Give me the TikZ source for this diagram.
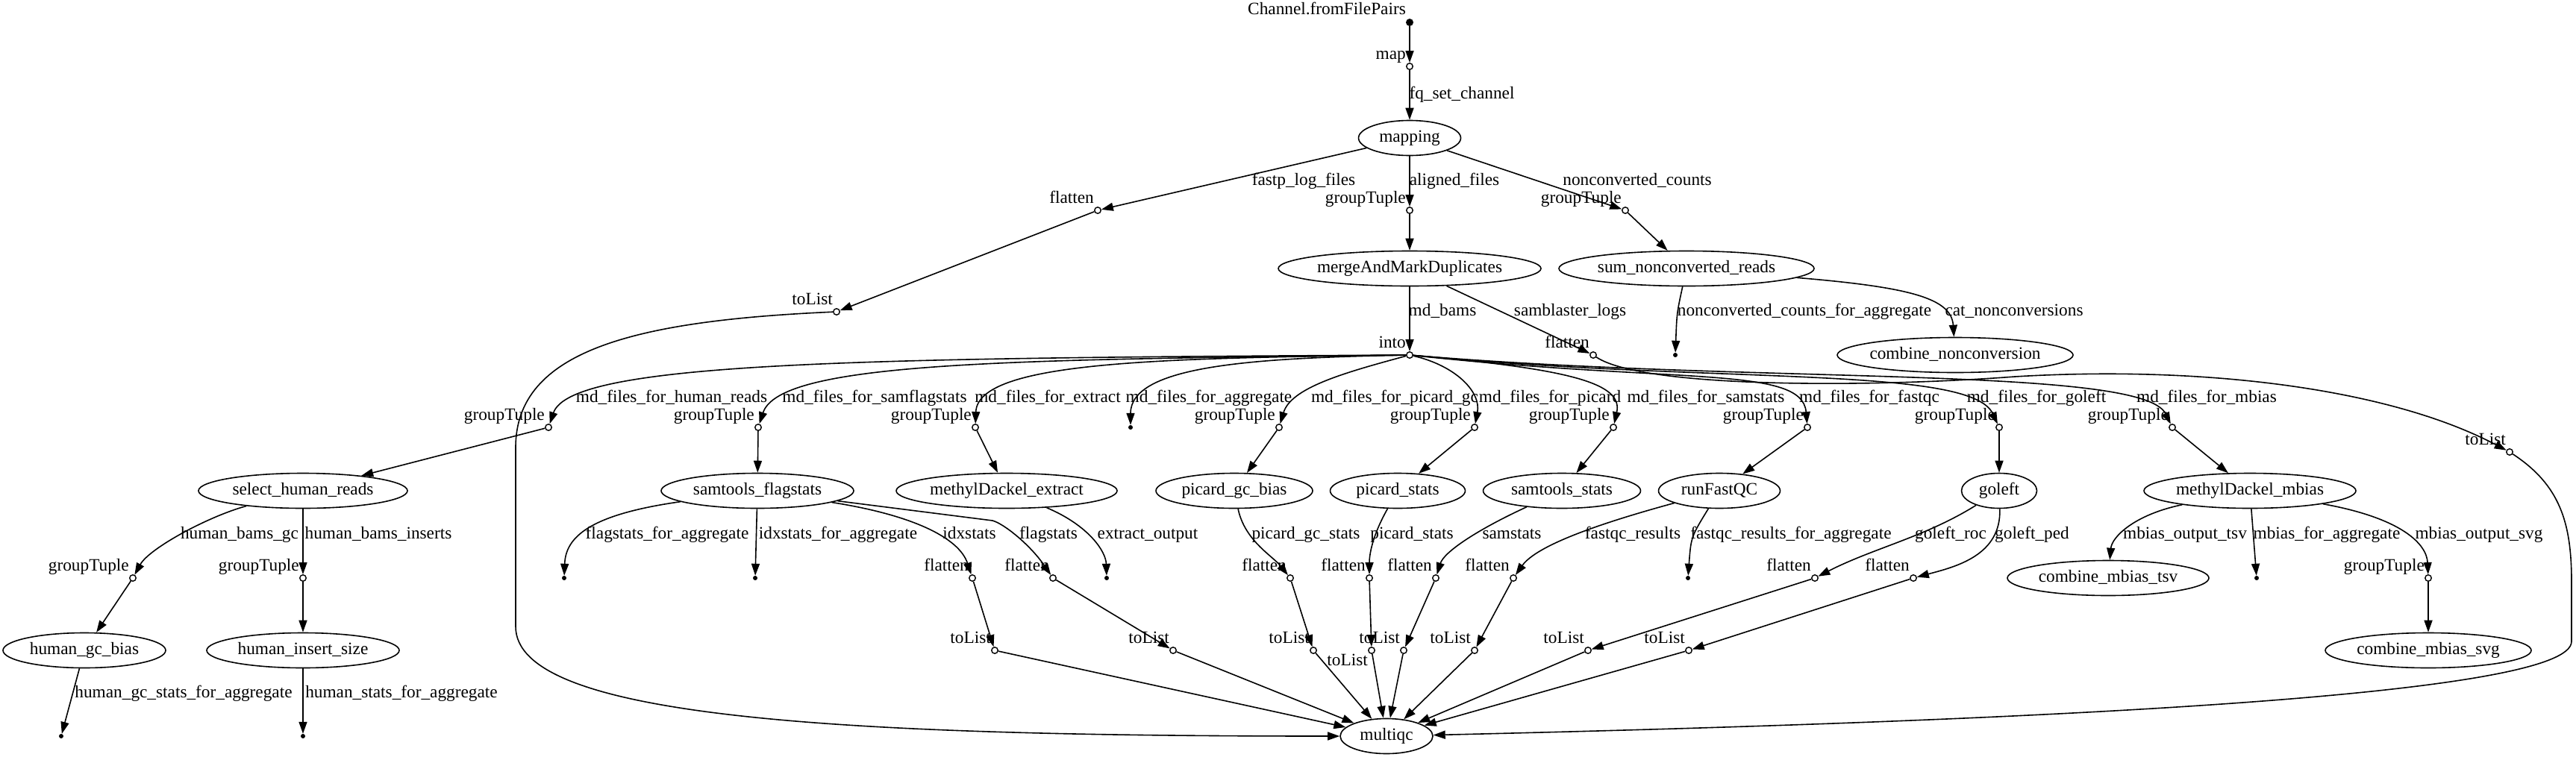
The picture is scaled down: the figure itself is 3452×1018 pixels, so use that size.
\documentclass[tikz,border=0pt]{standalone}
\usepackage{fontspec}
\setmainfont{Liberation Serif}
\usetikzlibrary{shapes.geometric,arrows.meta}
\newcommand\opnode[4]{%
  \node[opn] (#1) at (#2,#3) {};
  \node[xl] (#1-l) at (#2-5,#3-15) {#4};}
\newcommand\procnode[5]{%
  \node[proc, minimum width=#4pt] (#1) at (#2,#3) {\makebox[0pt]{#5}};}
\begin{document}
\begin{tikzpicture}[x=1pt,y=-1pt,
  every node/.style={font=\fontsize{23.3pt}{28pt}\selectfont},
  txt/.style={inner sep=0pt, text height=16pt, text depth=5pt},
  proc/.style={ellipse, draw, line width=1.6pt, inner sep=0pt, minimum height=47pt, text height=16pt, text depth=5pt},
  opn/.style={circle, draw, line width=1.4pt, inner sep=0pt, minimum size=8.5pt, fill=white},
  srcn/.style={circle, fill, inner sep=0pt, minimum size=10pt},
  sinkn/.style={circle, fill, inner sep=0pt, minimum size=6pt},
  xl/.style={txt, anchor=east},
  el/.style={txt},
  conn/.style={line width=1.6pt, -{Triangle[length=16pt,width=11pt]}}
]
\useasboundingbox (0,0) rectangle (3452,1018);

% ---------- nodes ----------
\node[srcn] (src) at (1889,30) {};
\node[txt] (src-l) at (1778,14) {Channel.fromFilePairs};
\opnode{map}{1889}{89}{map}
\procnode{mapping}{1889}{185}{137}{mapping}
\opnode{flatA}{1471}{282}{flatten}
\opnode{gtA}{1889}{282}{groupTuple}
\opnode{gtB}{2178}{282}{groupTuple}
\opnode{tlA}{1121}{418}{toList}
\procnode{mamd}{1889}{360}{352}{mergeAndMarkDuplicates}
\procnode{sumnc}{2260}{360}{342}{sum\_nonconverted\_reads}
\opnode{into}{1889}{476}{into}
\opnode{flatB}{2135}{476}{flatten}
\node[sinkn] (snkA) at (2245,476) {};
\procnode{combnc}{2620}{476}{316}{combine\_nonconversion}

\opnode{gtHR}{735}{573}{groupTuple}
\opnode{gtSF}{1016}{573}{groupTuple}
\opnode{gtEX}{1307}{573}{groupTuple}
\node[sinkn] (snkB) at (1515,573) {};
\opnode{gtPG}{1714}{573}{groupTuple}
\opnode{gtPS}{1976}{573}{groupTuple}
\opnode{gtSS}{2162}{573}{groupTuple}
\opnode{gtFQ}{2422}{573}{groupTuple}
\opnode{gtGL}{2679}{573}{groupTuple}
\opnode{gtMB}{2911}{573}{groupTuple}
\opnode{tlB}{3363}{606}{toList}

\procnode{shr}{406}{658}{280}{select\_human\_reads}
\procnode{sfs}{1015}{658}{258}{samtools\_flagstats}
\procnode{mde}{1349}{658}{296}{methylDackel\_extract}
\procnode{pgb}{1654}{658}{210}{picard\_gc\_bias}
\procnode{pst}{1873}{658}{181}{picard\_stats}
\procnode{sst}{2093}{658}{211}{samtools\_stats}
\procnode{rfq}{2304}{658}{163}{runFastQC}
\procnode{gol}{2679}{658}{101}{goleft}
\procnode{mdm}{3015}{658}{284}{methylDackel\_mbias}

\opnode{gtHG}{178}{775}{groupTuple}
\opnode{gtHI}{406}{775}{groupTuple}
\node[sinkn] (snkC) at (756,775) {};
\node[sinkn] (snkD) at (1012,775) {};
\opnode{flIX}{1303}{775}{flatten}
\opnode{flFS}{1411}{775}{flatten}
\node[sinkn] (snkE) at (1483,775) {};
\opnode{flPG}{1729}{775}{flatten}
\opnode{flPS}{1835}{775}{flatten}
\opnode{flSS}{1924}{775}{flatten}
\opnode{flFQ}{2028}{775}{flatten}
\node[sinkn] (snkF) at (2262,775) {};
\opnode{flRO}{2432}{775}{flatten}
\opnode{flPE}{2564}{775}{flatten}
\procnode{cmt}{2825}{775}{270}{combine\_mbias\_tsv}
\node[sinkn] (snkG) at (3024,775) {};
\opnode{gtSV}{3254}{775}{groupTuple}

\procnode{hgb}{113}{872}{218}{human\_gc\_bias}
\procnode{his}{406}{872}{258}{human\_insert\_size}
\opnode{tlIX}{1333}{872}{toList}
\opnode{tlFS}{1572}{872}{toList}
\opnode{tlPG}{1760}{872}{toList}
\node[opn] (tlPS) at (1838,872) {};
\node[xl] (tlPS-l) at (1833,887) {toList};
\opnode{tlSS}{1881}{872}{toList}
\opnode{tlFQ}{1976}{872}{toList}
\opnode{tlRO}{2128}{872}{toList}
\opnode{tlPE}{2263}{872}{toList}
\procnode{cms}{3254}{872}{276}{combine\_mbias\_svg}

\node[sinkn] (snkH) at (82,987) {};
\node[sinkn] (snkI) at (406,987) {};
\procnode{mqc}{1858}{987}{124}{multiqc}

% ---------- edge labels ----------
\node[el] (l1) at (1959,127) {fq\_set\_channel};
\node[el] (l2) at (1747,243) {fastp\_log\_files};
\node[el] (l3) at (1949,243) {aligned\_files};
\node[el] (l4) at (2194,243) {nonconverted\_counts};
\node[el] (l5) at (1933,418) {md\_bams};
\node[el] (l6) at (2104,418) {samblaster\_logs};
\node[el] (l7) at (2418,418) {nonconverted\_counts\_for\_aggregate};
\node[el] (l8) at (2699,418) {cat\_nonconversions};
\node[el] (l9) at (900,534) {md\_files\_for\_human\_reads};
\node[el] (l10) at (1172,534) {md\_files\_for\_samflagstats};
\node[el] (l11) at (1404,534) {md\_files\_for\_extract};
\node[el] (l12) at (1620,534) {md\_files\_for\_aggregate};
\node[el] (l13) at (1869,534) {md\_files\_for\_picard\_gc};
\node[el] (l14) at (2077,534) {md\_files\_for\_picard};
\node[el] (l15) at (2286,534) {md\_files\_for\_samstats};
\node[el] (l16) at (2505,534) {md\_files\_for\_fastqc};
\node[el] (l17) at (2729,534) {md\_files\_for\_goleft};
\node[el] (l18) at (2957,534) {md\_files\_for\_mbias};
\node[el] (l19) at (321,717) {human\_bams\_gc};
\node[el] (l20) at (507,717) {human\_bams\_inserts};
\node[el] (l21) at (894,717) {flagstats\_for\_aggregate};
\node[el] (l22) at (1123,717) {idxstats\_for\_aggregate};
\node[el] (l23) at (1299,717) {idxstats};
\node[el] (l24) at (1405,717) {flagstats};
\node[el] (l25) at (1538,717) {extract\_output};
\node[el] (l26) at (1750,717) {picard\_gc\_stats};
\node[el] (l27) at (1892,717) {picard\_stats};
\node[el] (l28) at (2026,717) {samstats};
\node[el] (l29) at (2188,717) {fastqc\_results};
\node[el] (l30) at (2400,717) {fastqc\_results\_for\_aggregate};
\node[el] (l31) at (2614,717) {goleft\_roc};
\node[el] (l32) at (2723,717) {goleft\_ped};
\node[el] (l33) at (2928,717) {mbias\_output\_tsv};
\node[el] (l34) at (3118,717) {mbias\_for\_aggregate};
\node[el] (l35) at (3322,717) {mbias\_output\_svg};
\node[el] (l36) at (246,930) {human\_gc\_stats\_for\_aggregate};
\node[el] (l37) at (538,930) {human\_stats\_for\_aggregate};

% ---------- edges ----------
\draw[conn] (src) -- (map);
\draw[conn] (map) -- (mapping);
\draw[conn] (mapping) -- (flatA);
\draw[conn] (mapping) -- (gtA);
\draw[conn] (mapping) -- (gtB);
\draw[conn] (flatA) -- (tlA);
\draw[conn] (tlA) .. controls (850,430) and (691,470) .. (691,600) -- (691,840) .. controls (691,960) and (1100,987) .. (mqc);
\draw[conn] (gtA) -- (mamd);
\draw[conn] (gtB) -- (sumnc);
\draw[conn] (mamd) -- (into);
\draw[conn] (mamd) -- (flatB);
\draw[conn] (sumnc) .. controls (2247,420) .. (snkA);
\draw[conn] (sumnc) .. controls (2560,385) and (2615,400) .. (combnc);
\draw[conn] (flatB) .. controls (2200,520) and (2500,520) .. (2700,505) .. controls (2950,490) and (3200,520) .. (tlB);
\draw[conn] (tlB) .. controls (3430,650) and (3446,700) .. (3446,780) -- (3446,860) .. controls (3446,930) and (2800,965) .. (mqc);

\draw[conn] (into) .. controls (1150,480) and (765,485) .. (gtHR);
\draw[conn] (into) .. controls (1350,482) and (1045,485) .. (gtSF);
\draw[conn] (into) .. controls (1550,480) and (1310,485) .. (gtEX);
\draw[conn] (into) .. controls (1680,480) and (1515,490) .. (snkB);
\draw[conn] (into) .. controls (1800,500) and (1730,520) .. (gtPG);
\draw[conn] (into) .. controls (1950,490) and (1985,525) .. (gtPS);
\draw[conn] (into) .. controls (2110,495) and (2175,515) .. (gtSS);
\draw[conn] (into) .. controls (2250,515) and (2415,490) .. (gtFQ);
\draw[conn] (into) .. controls (2300,515) and (2640,490) .. (gtGL);
\draw[conn] (into) .. controls (2350,515) and (2870,490) .. (gtMB);

\draw[conn] (gtHR) -- (shr);
\draw[conn] (gtSF) -- (sfs);
\draw[conn] (gtEX) -- (mde);
\draw[conn] (gtPG) -- (pgb);
\draw[conn] (gtPS) -- (pst);
\draw[conn] (gtSS) -- (sst);
\draw[conn] (gtFQ) -- (rfq);
\draw[conn] (gtGL) -- (gol);
\draw[conn] (gtMB) -- (mdm);

\draw[conn] (shr) .. controls (280,692) and (200,735) .. (gtHG);
\draw[conn] (shr) -- (gtHI);
\draw[conn] (gtHG) -- (hgb);
\draw[conn] (gtHI) -- (his);
\draw[conn] (hgb) -- (snkH);
\draw[conn] (his) -- (snkI);

\draw[conn] (sfs) .. controls (790,690) and (758,720) .. (snkC);
\draw[conn] (sfs) -- (snkD);
\draw[conn] (sfs) .. controls (1220,690) and (1285,720) .. (flIX);
\draw[conn] (sfs) -- (1330,698) .. controls (1345,702) and (1380,730) .. (flFS);
\draw[conn] (mde) .. controls (1460,705) and (1482,740) .. (snkE);
\draw[conn] (pgb) .. controls (1668,725) and (1705,745) .. (flPG);
\draw[conn] (pst) .. controls (1838,720) and (1835,745) .. (flPS);
\draw[conn] (sst) .. controls (1980,710) and (1935,740) .. (flSS);
\draw[conn] (rfq) .. controls (2150,700) and (2060,730) .. (flFQ);
\draw[conn] (rfq) .. controls (2266,720) .. (snkF);
\draw[conn] (gol) .. controls (2580,720) and (2510,735) .. (flRO);
\draw[conn] (gol) .. controls (2682,745) and (2620,760) .. (flPE);
\draw[conn] (mdm) .. controls (2860,690) and (2830,720) .. (cmt);
\draw[conn] (mdm) -- (snkG);
\draw[conn] (mdm) .. controls (3220,695) and (3252,730) .. (gtSV);
\draw[conn] (gtSV) -- (cms);

\draw[conn] (flIX) -- (tlIX);
\draw[conn] (flFS) -- (tlFS);
\draw[conn] (flPG) -- (tlPG);
\draw[conn] (flPS) -- (tlPS);
\draw[conn] (flSS) -- (tlSS);
\draw[conn] (flFQ) -- (tlFQ);
\draw[conn] (flRO) -- (tlRO);
\draw[conn] (flPE) -- (tlPE);

\draw[conn] (tlIX) -- (mqc);
\draw[conn] (tlFS) -- (mqc);
\draw[conn] (tlPG) -- (mqc);
\draw[conn] (tlPS) -- (mqc);
\draw[conn] (tlSS) -- (mqc);
\draw[conn] (tlFQ) -- (mqc);
\draw[conn] (tlRO) -- (mqc);
\draw[conn] (tlPE) -- (mqc);
\end{tikzpicture}
\end{document}
